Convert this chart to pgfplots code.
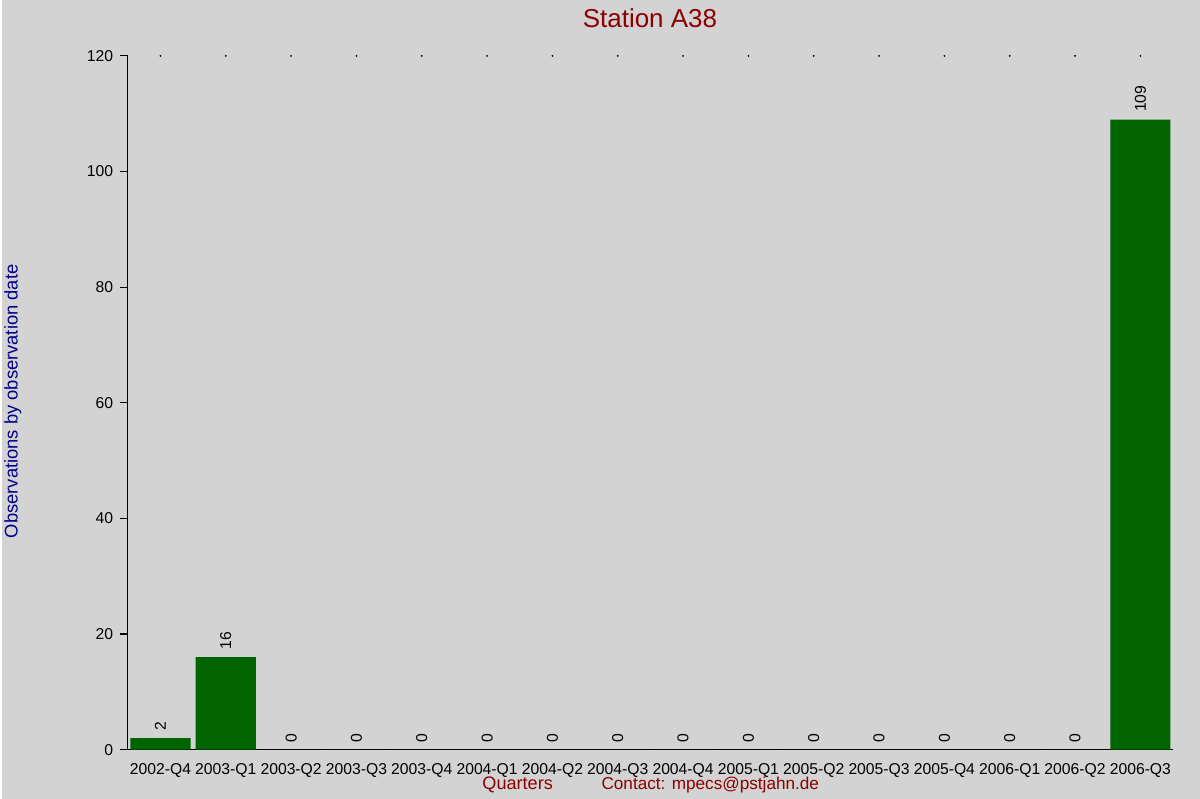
\documentclass[border=0pt]{standalone}
\usepackage{pgfplots}
\pgfplotsset{compat=1.18}
\usepackage{fontspec}
\setmainfont{Liberation Sans}
\definecolor{bgcol}{HTML}{D3D3D3}
\definecolor{titlered}{HTML}{8B0000}
\definecolor{labelblue}{HTML}{00008B}
\definecolor{bargreen}{HTML}{006400}
\begin{document}
\begin{tikzpicture}
% page background, 1200x800 px at 0.75pt per px
\fill[bgcol] (-94.5pt,-36.75pt) rectangle (805.5pt,563.25pt);
\begin{axis}[
    at={(0,0)}, anchor=south west,
    scale only axis,
    width=785.25pt, height=521.25pt,
    xmin=-0.5, xmax=15.5,
    ymin=0, ymax=120,
    axis x line=bottom, axis y line=left,
    axis line style={-, line width=0.9pt, black},
    xtick={0,...,15},
    xticklabels={2002-Q4,2003-Q1,2003-Q2,2003-Q3,2003-Q4,2004-Q1,2004-Q2,2004-Q3,2004-Q4,2005-Q1,2005-Q2,2005-Q3,2005-Q4,2006-Q1,2006-Q2,2006-Q3},
    xtick style={draw=none},
    ytick={0,20,40,60,80,100,120},
    y tick style={black, line width=0.9pt},
    tick align=outside,
    major tick length=6pt,
    /pgf/number format/assume math mode=true,
    tick label style={font=\fontsize{11.8}{13}\selectfont},
    x tick label style={yshift=-0.5pt},
    y tick label style={xshift=-1.5pt},
    ybar, bar width=0.92,
    nodes near coords,
    every node near coord/.append style={rotate=90, anchor=west, inner xsep=5.5pt,
        font=\fontsize{11.8}{13}\selectfont, black},
]
\addplot[fill=bargreen, draw=none] coordinates {
    (0,2) (1,16) (2,0) (3,0) (4,0) (5,0) (6,0) (7,0)
    (8,0) (9,0) (10,0) (11,0) (12,0) (13,0) (14,0) (15,109)
};
% small dots along the top edge
\addplot[only marks, mark=*, mark size=0.45pt, black, nodes near coords=] coordinates {
    (0,120) (1,120) (2,120) (3,120) (4,120) (5,120) (6,120) (7,120)
    (8,120) (9,120) (10,120) (11,120) (12,120) (13,120) (14,120) (15,120)
};
\end{axis}
\node[titlered, font=\fontsize{19.5}{22}\selectfont] at (392.25pt,549.75pt) {Station A38};
\node[labelblue, rotate=90, font=\fontsize{13.8}{16}\selectfont] at (-86.25pt,261.75pt) {Observations by observation date};
\node[titlered, font=\fontsize{13.6}{16}\selectfont, inner sep=0pt] at (292.9pt,-26.75pt) {Quarters};
\node[titlered, font=\fontsize{12.9}{16}\selectfont, inner sep=0pt] at (437.6pt,-26.75pt) {Contact: mpecs@pstjahn.de};
\end{tikzpicture}
\end{document}
